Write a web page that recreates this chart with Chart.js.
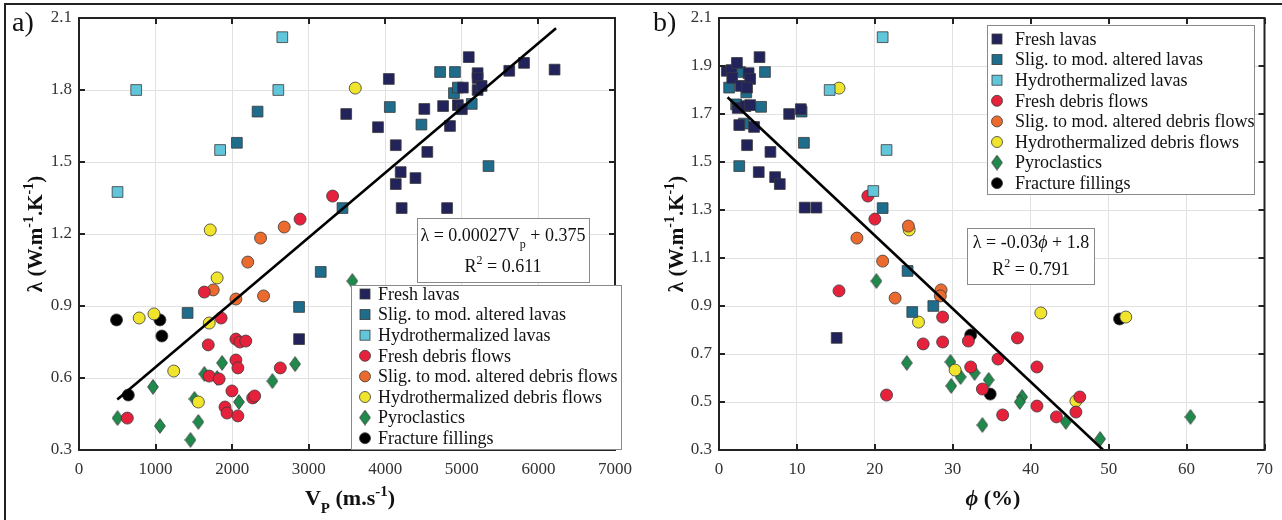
<!DOCTYPE html>
<html>
<head>
<meta charset="utf-8">
<script src="https://cdn.jsdelivr.net/npm/chart.js@4.4.1/dist/chart.umd.min.js"></script>
<style>
  html, body { margin: 0; padding: 0; background: #fff; }
  #wrap { position: relative; width: 1282px; height: 520px; overflow: hidden; }
  .panel { position: absolute; top: 0; }
  #frame { position: absolute; left: 4px; top: 3px; width: 1300px; height: 540px;
           border-left: 2px solid #222; border-top: 2px solid #222; pointer-events: none; }
</style>
</head>
<body>
<div id="wrap">
  <canvas id="chartA" class="panel" style="left:0" width="641" height="520"></canvas>
  <canvas id="chartB" class="panel" style="left:641px" width="641" height="520"></canvas>
  <div id="frame"></div>
</div>
<script>
// ---- data ----
const seriesNames = [
  "Fresh lavas",
  "Slig. to mod. altered lavas",
  "Hydrothermalized lavas",
  "Fresh debris flows",
  "Slig. to mod. altered debris flows",
  "Hydrothermalized debris flows",
  "Pyroclastics",
  "Fracture fillings",
];

// panel a) : [Vp (m/s), lambda]
const aFreshLavas = [[3490,1.70],[3905,1.645],[4046,1.846],[4137,1.57],[4201,1.458],[4137,1.408],[4214,1.308],
  [4394,1.433],[4510,1.721],[4549,1.542],[4755,1.733],[4807,1.308],[4845,1.65],[4948,1.737],[5000,1.72],
  [5013,1.81],[5090,1.937],[5206,1.87],[5206,1.85],[5206,1.80],[5258,1.817],[5619,1.88],[5812,1.913],
  [6211,1.885],[2874,0.762]];
const aAlteredLavas = [[2332,1.71],[2062,1.58],[3441,1.308],[4059,1.729],[4472,1.656],[4716,1.875],[4910,1.875],
  [4897,1.787],[4948,1.81],[5129,1.742],[5348,1.483],[3157,1.042],[2874,0.896],[1418,0.871]];
const aHydroLavas = [[2655,2.02],[747,1.80],[1843,1.55],[503,1.375],[2603,1.80]];
const aFreshDebris = [[2887,1.262],[3312,1.358],[1637,0.958],[1856,0.85],[1688,0.738],[2049,0.762],[2101,0.75],
  [2178,0.754],[2049,0.675],[2075,0.642],[1701,0.608],[1830,0.596],[2629,0.642],[1997,0.546],[1907,0.479],
  [1933,0.454],[2075,0.442],[2268,0.517],[2294,0.525],[631,0.433]];
const aAlteredDebris = [[2371,1.183],[2680,1.229],[2204,1.083],[2410,0.942],[1753,0.967],[2049,0.929]];
const aHydroDebris = [[1714,1.217],[3608,1.808],[1804,1.017],[786,0.85],[979,0.867],[1701,0.829],[1237,0.629],[1559,0.50]];
const aPyroclastics = [[1869,0.663],[1637,0.617],[1804,0.60],[2822,0.658],[2526,0.587],[966,0.563],[1508,0.513],
  [2088,0.50],[503,0.433],[1057,0.40],[1559,0.417],[1456,0.342],[3570,1.004]];
const aFracture = [[490,0.842],[1057,0.842],[1082,0.775],[644,0.529]];
const aFitLine = [[500,0.51],[6230,2.057]];

// panel b) : [porosity (%), lambda]
const bFreshLavas = [[1.0,1.88],[1.6,1.883],[2.3,1.913],[1.7,1.85],[2.8,1.817],[3.8,1.87],[4.0,1.846],[3.6,1.81],
  [5.2,1.937],[2.4,1.725],[3.4,1.733],[4.0,1.737],[2.6,1.654],[4.5,1.646],[3.6,1.57],[6.6,1.542],[5.1,1.458],
  [7.2,1.437],[7.8,1.408],[9.0,1.70],[10.5,1.72],[11.0,1.31],[12.5,1.31],[15.1,0.767]];
const bAlteredLavas = [[1.3,1.81],[2.7,1.875],[5.9,1.875],[3.5,1.79],[2.2,1.74],[3.2,1.66],[5.4,1.73],[10.6,1.71],
  [10.9,1.58],[2.6,1.483],[21.0,1.308],[24.2,1.046],[24.8,0.875],[27.5,0.90]];
const bHydroLavas = [[21.0,2.02],[14.2,1.80],[21.5,1.55],[19.8,1.379]];
const bFreshDebris = [[19.1,1.358],[20.0,1.262],[15.4,0.963],[28.7,0.854],[26.2,0.742],[28.7,0.75],[21.5,0.529],
  [32.0,0.754],[32.3,0.646],[35.8,0.679],[33.8,0.554],[36.4,0.446],[38.3,0.767],[40.8,0.646],[40.8,0.483],
  [43.3,0.438],[46.3,0.521],[45.8,0.458]];
const bAlteredDebris = [[24.3,1.233],[17.7,1.183],[21.0,1.087],[22.6,0.933],[28.5,0.967],[28.4,0.942]];
const bHydroDebris = [[15.4,1.808],[24.4,1.217],[25.6,0.833],[30.3,0.633],[41.3,0.871],[52.2,0.854],[45.8,0.504]];
const bPyroclastics = [[20.2,1.004],[24.1,0.663],[29.7,0.667],[31.0,0.604],[29.8,0.567],[32.8,0.621],[34.6,0.592],
  [38.9,0.521],[38.6,0.50],[33.8,0.404],[44.5,0.417],[48.9,0.346],[60.5,0.438]];
const bFracture = [[32.3,0.779],[51.4,0.846],[34.8,0.533]];
const bFitLine = [[1.1,1.77],[49.3,0.30]];

// tick labels
const aXTicks = [0, 1000, 2000, 3000, 4000, 5000, 6000, 7000];
const aYTicks = [0.3, 0.6, 0.9, 1.2, 1.5, 1.8, 2.1];
const bXTicks = [0, 10, 20, 30, 40, 50, 60, 70];
const bYTicks = [0.3, 0.5, 0.7, 0.9, 1.1, 1.3, 1.5, 1.7, 1.9, 2.1];

// ---- styling ----
const SERIF = "'Liberation Serif','DejaVu Serif',serif";
const colors = ["#23235c", "#1f6d8c", "#62c6da", "#e5213c", "#eb6a2e", "#f1e42c", "#1f8a4c", "#000000"];
const shapes = ["square", "square", "square", "circle", "circle", "circle", "diamond", "circle"];
const EDGE = "#3a3a3a";

function makeDiamond(fill) {
  const c = document.createElement("canvas");
  c.width = 12; c.height = 16;
  const g = c.getContext("2d");
  g.beginPath();
  g.moveTo(6, 0.6); g.lineTo(11.4, 8); g.lineTo(6, 15.4); g.lineTo(0.6, 8); g.closePath();
  g.fillStyle = fill; g.fill();
  g.lineWidth = 0.8; g.strokeStyle = EDGE; g.stroke();
  return c;
}
const diamond = makeDiamond(colors[6]);

function toPts(arr) { return arr.map(p => ({x: p[0], y: p[1]})); }

function buildDatasets(groups, fit) {
  const ds = groups.map((g, i) => ({
    type: "scatter",
    label: seriesNames[i],
    data: toPts(g),
    backgroundColor: colors[i],
    borderColor: EDGE,
    borderWidth: 0.8,
    pointStyle: shapes[i] === "square" ? "rect" : shapes[i] === "diamond" ? diamond : "circle",
    pointRadius: shapes[i] === "square" ? 7.6 : 6,
    order: 1,
  }));
  ds.push({
    type: "line",
    label: "fit",
    data: toPts(fit),
    borderColor: "#000",
    borderWidth: 2.6,
    pointRadius: 0,
    showLine: true,
    order: 0,
  });
  return ds;
}

// text with sub/superscripts; parts = [[text, mode]], mode '', 'sub', 'sup', 'it'
function richText(ctx, parts, x, y, size, bold, align) {
  const w0 = bold ? "bold " : "";
  const fontFor = m => (m === "it" ? "italic " : "") + w0 +
    (m === "sub" || m === "sup" ? Math.round(size * 0.68) : size) + "px " + SERIF;
  let w = 0;
  parts.forEach(([t, m]) => { ctx.font = fontFor(m); w += ctx.measureText(t).width; });
  let cx = align === "center" ? x - w / 2 : x;
  ctx.save();
  ctx.fillStyle = "#111";
  ctx.textAlign = "left";
  ctx.textBaseline = "alphabetic";
  parts.forEach(([t, m]) => {
    ctx.font = fontFor(m);
    const dy = m === "sub" ? size * 0.38 : m === "sup" ? -size * 0.42 : 0;
    ctx.fillText(t, cx, y + dy);
    cx += ctx.measureText(t).width;
  });
  ctx.restore();
}

function drawMarker(ctx, shape, color, x, y) {
  ctx.save();
  ctx.fillStyle = color; ctx.strokeStyle = EDGE; ctx.lineWidth = 0.8;
  if (shape === "square") {
    ctx.fillRect(x - 5, y - 5, 10, 10); ctx.strokeRect(x - 5, y - 5, 10, 10);
  } else if (shape === "circle") {
    ctx.beginPath(); ctx.arc(x, y, 5.5, 0, Math.PI * 2); ctx.fill(); ctx.stroke();
  } else {
    ctx.drawImage(diamond, x - 6, y - 8);
  }
  ctx.restore();
}

function drawBox(ctx, l, t, r, b) {
  ctx.save();
  ctx.fillStyle = "#fff"; ctx.fillRect(l, t, r - l, b - t);
  ctx.strokeStyle = "#8a8a8a"; ctx.lineWidth = 1;
  ctx.strokeRect(l + 0.5, t + 0.5, r - l - 1, b - t - 1);
  ctx.restore();
}

function decorPlugin(cfg) {
  return {
    id: "decor",
    afterDraw(chart) {
      const ctx = chart.ctx;
      const {left, right, top, bottom} = chart.chartArea;
      const xs = chart.scales.x, ys = chart.scales.y;
      ctx.save();
      // inner ticks on all four sides
      ctx.strokeStyle = "#222"; ctx.lineWidth = 2;
      ctx.beginPath();
      xs.ticks.forEach(t => {
        const px = Math.round(xs.getPixelForValue(t.value));
        ctx.moveTo(px, bottom); ctx.lineTo(px, bottom - 6);
        ctx.moveTo(px, top); ctx.lineTo(px, top + 6);
      });
      ys.ticks.forEach(t => {
        const py = Math.round(ys.getPixelForValue(t.value));
        ctx.moveTo(left, py); ctx.lineTo(left + 6, py);
        ctx.moveTo(right, py); ctx.lineTo(right - 6, py);
      });
      ctx.stroke();
      ctx.strokeRect(left, top, right - left, bottom - top);
      ctx.restore();

      // legend
      const L = cfg.legend;
      drawBox(ctx, L.l, L.t, L.r, L.b);
      seriesNames.forEach((name, i) => {
        const y = L.y0 + i * L.step;
        drawMarker(ctx, shapes[i], colors[i], L.mx, y);
        ctx.save();
        ctx.font = "18px " + SERIF; ctx.fillStyle = "#111";
        ctx.textBaseline = "middle"; ctx.textAlign = "left";
        ctx.fillText(name, L.tx, y + 1);
        ctx.restore();
      });

      // equation box
      const E = cfg.eq;
      drawBox(ctx, E.l, E.t, E.r, E.b);
      richText(ctx, E.line1, E.cx, E.y1, 18, false, "center");
      richText(ctx, E.line2, E.cx, E.y2, 18, false, "center");

      // panel label and axis titles
      ctx.save();
      ctx.font = "28px " + SERIF; ctx.fillStyle = "#111";
      ctx.fillText(cfg.panel, 12, 31);
      ctx.restore();
      richText(ctx, cfg.xTitle, cfg.xTitleX, 505, 22, true, "center");
      ctx.save();
      ctx.translate(42, 234);
      ctx.rotate(-Math.PI / 2);
      richText(ctx, [["λ (W.m", ""], ["-1", "sup"], [".K", ""], ["-1", "sup"], [")", ""]], 0, 0, 21, true, "center");
      ctx.restore();
    },
  };
}

function scaleOpts(min, max, ticks, digits, fit) {
  return {
    type: "linear", min: min, max: max,
    afterBuildTicks: s => { s.ticks = ticks.map(v => ({value: v})); },
    afterFit: fit,
    grid: {color: "#e2e2e2", lineWidth: 1, drawTicks: false},
    border: {display: false},
    ticks: {
      font: {family: SERIF, size: 17}, color: "#333", autoSkip: false, maxRotation: 0,
      callback: v => digits ? Number(v).toFixed(digits) : String(v),
    },
  };
}

function makeChart(id, groups, fit, xr, yr, cfg) {
  const xScale = scaleOpts(xr[0], xr[1], xr[2], 0, s => { s.height = 70; });
  xScale.ticks.padding = 9;
  const yScale = scaleOpts(yr[0], yr[1], yr[2], 1, s => { s.width = cfg.axisLeft; });
  yScale.ticks.padding = 7;
  return new Chart(document.getElementById(id), {
    type: "scatter",
    data: {datasets: buildDatasets(groups, fit)},
    options: {
      responsive: false,
      animation: false,
      devicePixelRatio: 1,
      layout: {padding: {top: 18, right: cfg.padRight, bottom: 0, left: 0}},
      plugins: {legend: {display: false}, tooltip: {enabled: false}},
      scales: {x: xScale, y: yScale},
    },
    plugins: [decorPlugin(cfg)],
  });
}

makeChart("chartA",
  [aFreshLavas, aAlteredLavas, aHydroLavas, aFreshDebris, aAlteredDebris, aHydroDebris, aPyroclastics, aFracture],
  aFitLine, [0, 7000, aXTicks], [0.3, 2.1, aYTicks],
  {
    axisLeft: 79, padRight: 19, panel: "a)",
    xTitle: [["V", ""], ["P", "sub"], [" (m.s", ""], ["-1", "sup"], [")", ""]], xTitleX: 350,
    legend: {l: 351, t: 285, r: 622, b: 450, mx: 365, tx: 378, y0: 294, step: 20.6},
    eq: {l: 417, t: 218, r: 590, b: 283, cx: 503, y1: 241, y2: 272,
         line1: [["λ = 0.00027V", ""], ["p", "sub"], [" + 0.375", ""]],
         line2: [["R", ""], ["2", "sup"], [" = 0.611", ""]]},
  });

makeChart("chartB",
  [bFreshLavas, bAlteredLavas, bHydroLavas, bFreshDebris, bAlteredDebris, bHydroDebris, bPyroclastics, bFracture],
  bFitLine, [0, 70, bXTicks], [0.3, 2.1, bYTicks],
  {
    axisLeft: 78, padRight: 16, panel: "b)",
    xTitle: [["ϕ", "it"], [" (%)", ""]], xTitleX: 352,
    legend: {l: 346, t: 25, r: 614, b: 195, mx: 356, tx: 374, y0: 39, step: 20.6},
    eq: {l: 326, t: 228, r: 454, b: 285, cx: 390, y1: 248, y2: 275,
         line1: [["λ = -0.03", ""], ["ϕ", "it"], [" + 1.8", ""]],
         line2: [["R", ""], ["2", "sup"], [" = 0.791", ""]]},
  });
</script>
</body>
</html>
